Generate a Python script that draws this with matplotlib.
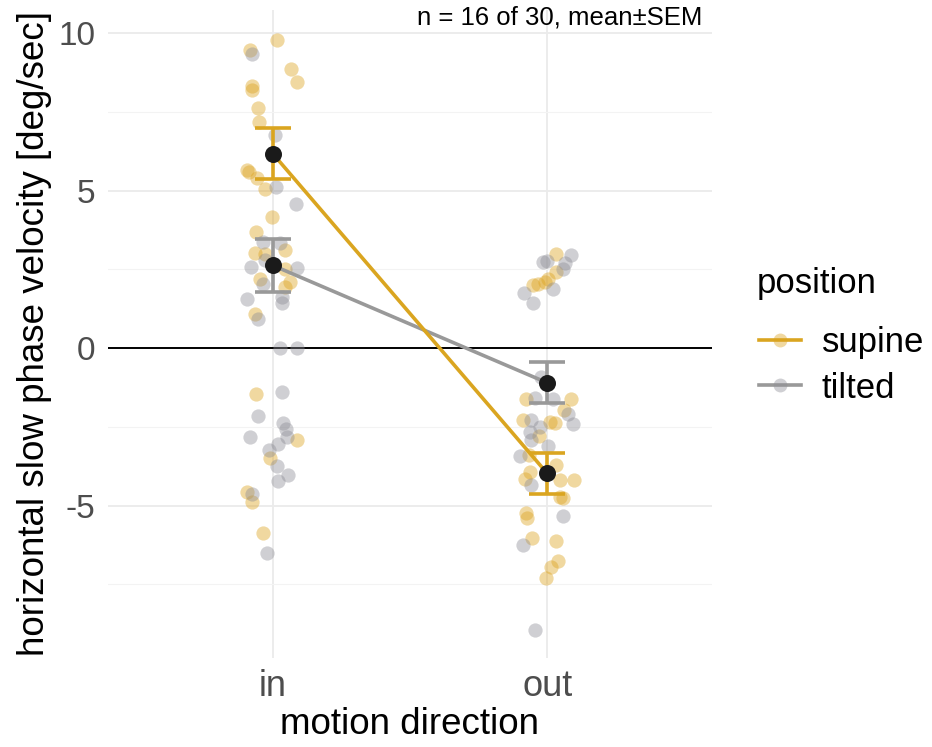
import matplotlib
matplotlib.use("Agg")
import matplotlib.pyplot as plt
from matplotlib.lines import Line2D
import numpy as np

plt.rcParams['font.family'] = ['Liberation Sans', 'DejaVu Sans']

categories = ["in", "out"]
positions = ["supine", "tilted"]

# individual observations (value, horizontal jitter in category units)
in_supine_vals = [9.8, 9.48, 8.88, 8.45, 8.32, 8.19, 7.64, 7.18, 5.67, 5.6, 5.39, 5.07, 4.17, 3.69,
                  3.03, 3.0, 3.11, 2.53, 2.21, 2.11, 1.95, 1.1, -1.44, -2.92, -3.5, -4.58, -4.88, -5.88]
in_supine_jit = [0.015, -0.082, 0.067, 0.090, -0.076, -0.074, -0.052, -0.049, -0.095, -0.086, -0.058,
                 -0.028, -0.004, -0.060, -0.064, -0.028, 0.043, 0.043, -0.046, 0.063, 0.045, -0.064,
                 -0.060, 0.087, -0.009, -0.095, -0.076, -0.036]

in_tilted_vals = [9.33, 6.76, 5.12, 4.59, 3.37, 3.34, 2.79, 2.58, 2.56, 2.05, 1.57, 1.63, 1.44, 0.94,
                  0.0, 0.0, -1.39, -2.16, -2.39, -2.58, -2.81, -2.81, -3.03, -3.22, -3.73, -4.03,
                  -4.22, -4.62, -6.49]
in_tilted_jit = [-0.074, 0.009, 0.011, 0.084, -0.034, 0.027, -0.028, -0.079, 0.087, -0.034, -0.095,
                 0.035, 0.033, -0.052, 0.027, 0.087, 0.033, -0.055, 0.036, 0.049, -0.082, 0.053,
                 0.021, -0.012, 0.015, 0.057, 0.021, -0.076, -0.022]

out_supine_vals = [2.98, 2.42, 2.21, 2.11, 2.05, 2.0, -1.6, -1.6, -1.95, -2.29, -2.36, -2.37, -2.78,
                   -3.4, -3.71, -3.92, -4.14, -4.19, -4.19, -4.72, -4.77, -5.25, -5.38, -6.04, -6.12,
                   -6.75, -6.96, -7.31]
out_supine_jit = [0.033, 0.033, 0.003, -0.009, -0.034, -0.052, -0.076, 0.087, 0.061, -0.088, 0.009,
                  0.027, -0.031, -0.066, 0.033, -0.064, -0.082, 0.045, 0.096, 0.045, 0.057, -0.076,
                  -0.073, -0.055, 0.033, 0.039, 0.015, -0.006]

out_tilted_vals = [2.95, 2.75, 2.77, 2.69, 2.53, 1.89, 1.74, 1.42, -0.91, -1.58, -1.6, -2.08, -2.29,
                   -2.42, -2.49, -2.65, -2.91, -3.12, -3.44, -4.35, -5.33, -6.25, -8.95]
out_tilted_jit = [0.087, -0.016, 0.0, 0.063, 0.057, 0.021, -0.086, -0.052, -0.022, -0.046, 0.021,
                  0.075, -0.058, 0.093, -0.028, -0.064, -0.060, 0.003, -0.100, -0.058, 0.057,
                  -0.088, -0.044]

# means and standard errors (in, out)
supine_mean = [6.18, -3.98]
supine_sem = [0.82, 0.66]
tilted_mean = [2.63, -1.10]
tilted_sem = [0.85, 0.65]

yticks = [-5, 0, 5, 10]
ytick_labels = ["-5", "0", "5", "10"]

col = {"supine": "#DAA520", "tilted": "#999999"}
pt_col = {"supine": "#DCA21E", "tilted": "#8E8E96"}

W, H = 932, 747
fig = plt.figure(figsize=(W / 100, H / 100), dpi=100)
ax = fig.add_axes([108 / W, 89 / H, 604 / W, 648 / H])

xpos = np.arange(1, len(categories) + 1)

# grid
ax.set_xlim(0.4, 2.6)
ax.set_ylim(-9.84, 10.74)
ax.set_yticks(yticks)
ax.set_yticklabels(ytick_labels)
ax.set_yticks([-7.5, -2.5, 2.5, 7.5], minor=True)
ax.set_xticks(xpos)
ax.set_xticklabels(categories)
ax.grid(True, which='major', color='#EBEBEB', linewidth=1.3, zorder=0)
ax.grid(True, which='minor', axis='y', color='#F3F3F3', linewidth=0.8, zorder=0)
ax.set_axisbelow(True)
for s in ax.spines.values():
    s.set_visible(False)
ax.tick_params(axis='both', which='both', length=0, labelcolor='#4D4D4D')
ax.tick_params(axis='y', pad=9, labelsize=24)
ax.tick_params(axis='x', pad=8, labelsize=26)

ax.axhline(0, color='black', linewidth=1.4, zorder=1)

groups = [
    ("supine", 0, in_supine_vals, in_supine_jit),
    ("tilted", 0, in_tilted_vals, in_tilted_jit),
    ("supine", 1, out_supine_vals, out_supine_jit),
    ("tilted", 1, out_tilted_vals, out_tilted_jit),
]
for pos, ci, vals, jit in groups:
    ax.scatter(xpos[ci] + np.array(jit), vals, s=105, color=pt_col[pos], alpha=0.42,
               linewidths=0, zorder=2)

for pos, m, e in [("tilted", tilted_mean, tilted_sem), ("supine", supine_mean, supine_sem)]:
    ax.plot(xpos, m, color=col[pos], linewidth=2.6, zorder=3)
    ax.errorbar(xpos, m, yerr=e, fmt='none', ecolor=col[pos], elinewidth=2.6,
                capsize=13, capthick=2.6, zorder=3)
    ax.scatter(xpos, m, s=150, color='#1A1A1A', zorder=4, linewidths=0)

ax.set_xlabel("motion direction", fontsize=26.5, labelpad=2)
ax.set_ylabel("horizontal slow phase velocity [deg/sec]", fontsize=26.5, labelpad=5)

fig.text(702 / W, 1 - 17 / H, "n = 16 of 30, mean±SEM", ha='right', va='center', fontsize=18.5)

fig.text(757 / W, 1 - 283 / H, "position", ha='left', va='center', fontsize=25)

handles = [Line2D([0], [0], color=col[p], linewidth=2.6, marker='o', markersize=10,
                  markerfacecolor=matplotlib.colors.to_rgba(pt_col[p], 0.42),
                  markeredgewidth=0) for p in positions]
fig.legend(handles, positions, loc='upper left',
           bbox_to_anchor=(759 / W, 1 - 326 / H), frameon=False, fontsize=25,
           borderpad=0, borderaxespad=0, handlelength=1.2, handletextpad=0.6,
           labelspacing=0.36)

fig.savefig("out.png", dpi=100)
